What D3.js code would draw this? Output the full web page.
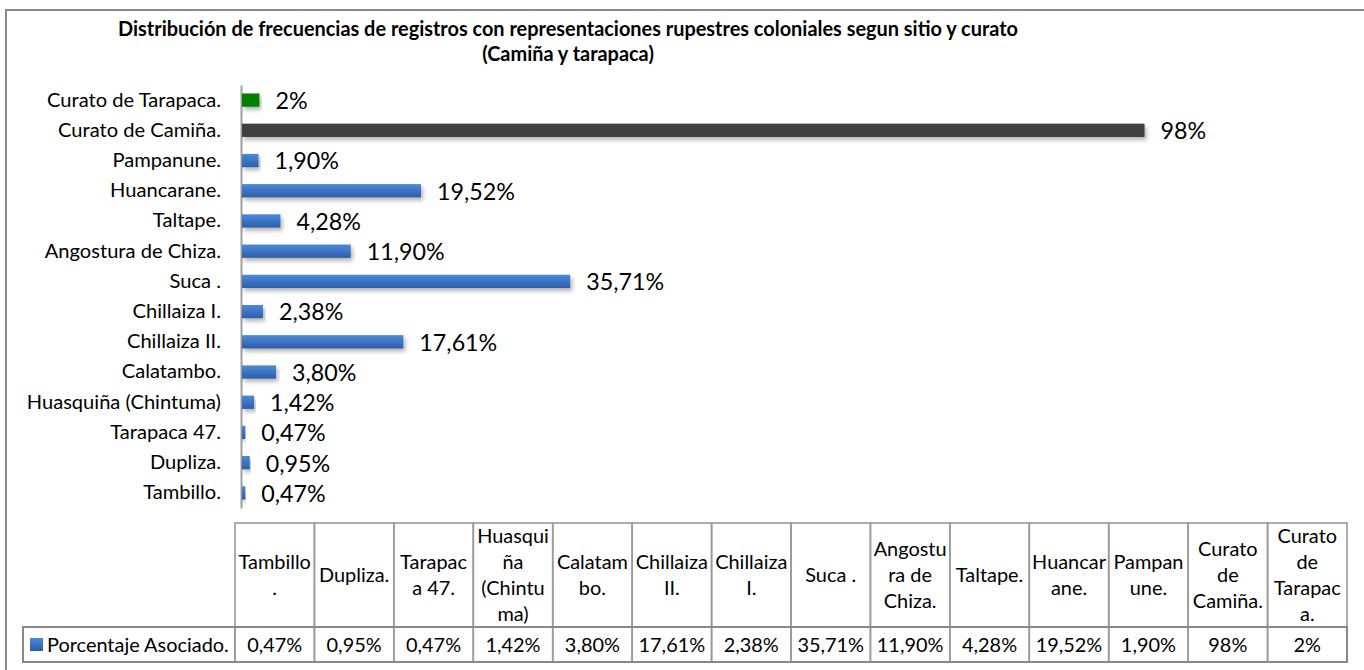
<!DOCTYPE html>
<html><head><meta charset="utf-8">
<script src="https://cdn.jsdelivr.net/npm/d3@7"></script>
<style>
html,body{margin:0;padding:0;background:#fff;}
svg{display:block;font-family:Lato,"Open Sans",sans-serif;}
</style>
</head><body>
<svg id="chart" width="1364" height="670"></svg>
<script>
// ---- data ----
const categories = ["Tambillo.","Dupliza.","Tarapaca 47.","Huasquiña (Chintuma)","Calatambo.","Chillaiza II.","Chillaiza I.","Suca .","Angostura de Chiza.","Taltape.","Huancarane.","Pampanune.","Curato de Camiña.","Curato de Tarapaca."];
const values = [0.47,0.95,0.47,1.42,3.80,17.61,2.38,35.71,11.90,4.28,19.52,1.90,98,2];
const decimals = [2,2,2,2,2,2,2,2,2,2,2,2,0,0];
const groups = ["sitio","sitio","sitio","sitio","sitio","sitio","sitio","sitio","sitio","sitio","sitio","sitio","camina","tarapaca"];
const headerLines = [["Tambillo","."],["Dupliza."],["Tarapac","a 47."],["Huasqui","ña","(Chintu","ma)"],["Calatam","bo."],["Chillaiza","II."],["Chillaiza","I."],["Suca ."],["Angostu","ra de","Chiza."],["Taltape."],["Huancar","ane."],["Pampan","une."],["Curato","de","Camiña."],["Curato","de","Tarapac","a."]];
const seriesName = "Porcentaje Asociado.";
const titleLines = ["Distribución de frecuencias de registros con representaciones rupestres coloniales segun sitio y curato","(Camiña y tarapaca)"];
const axisDomain = [0,100];

// ---- setup ----
const svg = d3.select("#chart");
const locale = d3.formatLocale({decimal:",",thousands:".",grouping:[3],currency:["","€"]});
const fmt = (v,d) => locale.format("." + d + "f")(v) + "%";
const rows = categories.map((c,i)=>({cat:c,val:values[i],dec:decimals[i],grp:groups[i],lines:headerLines[i]}));

function measure(txt, size, weight){
  const t = svg.append("text").attr("font-size",size).attr("font-weight",weight).text(txt);
  const w = t.node().getComputedTextLength(); t.remove(); return w;
}
const fit = (txt, target, weight=400) => 20 * target / measure(txt, 20, weight);

const titleSize = fit(titleLines[0], 900, 700);
const catSize = fit("Curato de Tarapaca.", 174);
const valSize = fit("19,52%", 78);
const tableSize = fit(seriesName, 182);

// defs
const defs = svg.append("defs");
const gBlue = defs.append("linearGradient").attr("id","gBlue").attr("x1",0).attr("y1",0).attr("x2",0).attr("y2",1);
gBlue.append("stop").attr("offset","0%").attr("stop-color","#4d89d6");
gBlue.append("stop").attr("offset","50%").attr("stop-color","#3b74c3");
gBlue.append("stop").attr("offset","100%").attr("stop-color","#2d5ea8");
const sh = defs.append("filter").attr("id","shadow").attr("x","-5%").attr("y","-50%").attr("width","115%").attr("height","250%");
sh.append("feDropShadow").attr("dx",2).attr("dy",3).attr("stdDeviation",2).attr("flood-color","#000").attr("flood-opacity",0.3);
const colorOf = g => g==="sitio" ? "url(#gBlue)" : g==="camina" ? "#404040" : "#058005";

// outer border
svg.append("rect").attr("x",6).attr("y",10).attr("width",1400).attr("height",700)
  .attr("fill","none").attr("stroke","#8a8a8a").attr("stroke-width",2);

// title
svg.append("g").selectAll("text").data(titleLines).join("text")
  .attr("x",568).attr("y",(d,i)=>36+i*25).attr("text-anchor","middle")
  .attr("font-size",titleSize).attr("font-weight",700).attr("fill","#000").text(d=>d);

// scales
const x = d3.scaleLinear().domain(axisDomain).range([241, 1163]);
const y = d3.scaleBand().domain(categories.slice().reverse()).range([85,508]).paddingInner(0.56).paddingOuter(0.28);

// axis
const yAxis = svg.append("g").attr("transform",`translate(${x(0)},0)`)
  .call(d3.axisLeft(y).tickSizeInner(0).tickSizeOuter(0).tickPadding(20));
yAxis.select(".domain").attr("stroke","#a0a0a0").attr("stroke-width",2);
yAxis.selectAll("text").attr("font-size",catSize).attr("font-family","Lato,'Open Sans',sans-serif").attr("fill","#000");

// bars
svg.append("g").selectAll("rect").data(rows).join("rect")
  .attr("x",x(0)+1).attr("y",d=>y(d.cat)).attr("width",d=>Math.max(1,x(d.val)-x(0)-1)).attr("height",y.bandwidth())
  .attr("fill",d=>colorOf(d.grp)).attr("filter","url(#shadow)");

// value labels
svg.append("g").selectAll("text").data(rows).join("text")
  .attr("x",d=>x(d.val)+16).attr("y",d=>y(d.cat)+y.bandwidth()/2).attr("dy","0.38em")
  .attr("font-size",valSize).attr("fill","#000").text(d=>fmt(d.val,d.dec));

// table
const tx = d3.scaleBand().domain(categories).range([235,1347]);
const hTop = 523, hBot = 627, dBot = 662, legL = 23;
const tbl = svg.append("g");
const lineStyle = s => s.attr("fill","none").attr("stroke","#999").attr("stroke-width",1.6);
tbl.selectAll("rect.h").data(rows).join("rect").attr("class","h")
  .attr("x",d=>tx(d.cat)).attr("y",hTop).attr("width",tx.bandwidth()).attr("height",hBot-hTop).call(lineStyle);
tbl.selectAll("rect.v").data(rows).join("rect").attr("class","v")
  .attr("x",d=>tx(d.cat)).attr("y",hBot).attr("width",tx.bandwidth()).attr("height",dBot-hBot).call(lineStyle);
tbl.append("rect").attr("x",legL).attr("y",hBot).attr("width",tx.range()[0]-legL).attr("height",dBot-hBot).call(lineStyle);
tbl.append("rect").attr("x",legL).attr("y",hBot).attr("width",tx.range()[1]-legL).attr("height",dBot-hBot)
  .attr("fill","none").attr("stroke","#888").attr("stroke-width",2);

// header texts
const hc = (hTop+hBot)/2, lh = 26;
rows.forEach(d=>{
  const n = d.lines.length;
  tbl.append("g").selectAll("text").data(d.lines).join("text")
    .attr("x",tx(d.cat)+tx.bandwidth()/2).attr("y",(t,i)=>hc+(i-(n-1)/2)*lh).attr("dy","0.36em")
    .attr("text-anchor","middle").attr("font-size",tableSize).attr("fill","#000").text(t=>t);
});
// data values
tbl.selectAll("text.val").data(rows).join("text").attr("class","val")
  .attr("x",d=>tx(d.cat)+tx.bandwidth()/2).attr("y",(hBot+dBot)/2).attr("dy","0.36em")
  .attr("text-anchor","middle").attr("font-size",tableSize).attr("fill","#000").text(d=>fmt(d.val,d.dec));
// legend key
tbl.append("rect").attr("x",30).attr("y",(hBot+dBot)/2-6.5).attr("width",13).attr("height",13).attr("fill","url(#gBlue)");
tbl.append("text").attr("x",47).attr("y",(hBot+dBot)/2).attr("dy","0.36em")
  .attr("font-size",tableSize).attr("fill","#000").text(seriesName);
</script>
</body></html>
